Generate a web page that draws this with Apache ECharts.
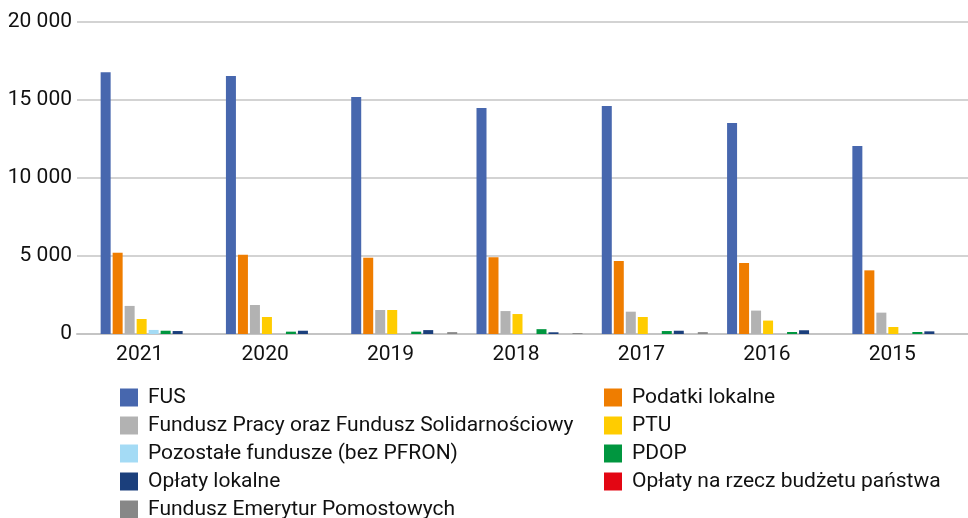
<!DOCTYPE html>
<html>
<head>
<meta charset="utf-8">
<script src="https://cdn.jsdelivr.net/npm/echarts@6/dist/echarts.min.js"></script>
<style>
  html, body { margin: 0; padding: 0; background: #fff; }
  #chart { width: 968px; height: 518px; }
</style>
</head>
<body>
<div id="chart"></div>
<script>
var years = ["2021", "2020", "2019", "2018", "2017", "2016", "2015"];
var yTicks = [0, 5000, 10000, 15000, 20000];

var fus = [16780, 16540, 15190, 14490, 14610, 13530, 12050];
var podatkiLokalne = [5210, 5080, 4890, 4920, 4680, 4550, 4080];
var funduszPracy = [1800, 1860, 1540, 1470, 1430, 1500, 1370];
var ptu = [960, 1090, 1540, 1280, 1090, 860, 450];
var pozostaleFundusze = [260, 0, 0, 0, 0, 0, 0];
var pdop = [210, 150, 150, 310, 190, 130, 130];
var oplatyLokalne = [190, 210, 250, 110, 210, 240, 170];
var oplatyBudzet = [0, 0, 0, 0, 0, 0, 0];
var funduszEmerytur = [0, 0, 120, 60, 120, 0, 0];

var FONT = "Roboto";

var chart = echarts.init(document.getElementById("chart"));

function bar(name, data, color) {
  return {
    name: name,
    type: "bar",
    xAxisIndex: 2,
    yAxisIndex: 2,
    data: data,
    barWidth: 10,
    barGap: "20%",
    itemStyle: { color: color },
  };
}

var legendText = {
  fontFamily: FONT,
  fontSize: 21,
  color: "#111",
  padding: [0, 0, 0, 5],
};

var option = {
  animation: false,
  grid: [
    { left: 77, right: 0, top: 22, bottom: 184 },
    { left: 77, right: 13, top: 22, bottom: 184 },
    { left: 91, right: -1.5, top: 22, bottom: 184 },
  ],
  xAxis: [
    {
      gridIndex: 0,
      type: "category",
      data: years,
      axisTick: { show: false },
      axisLabel: { show: false },
      axisLine: { lineStyle: { color: "#c4c4c4", width: 2 } },
    },
    {
      gridIndex: 1,
      type: "category",
      data: years,
      axisTick: { show: false },
      axisLine: { show: false },
      axisLabel: {
        margin: 10,
        fontFamily: FONT,
        fontSize: 21,
        color: "#111",
      },
    },
    {
      gridIndex: 2,
      type: "category",
      data: years,
      show: false,
    },
  ],
  yAxis: [
    {
      gridIndex: 0,
      type: "value",
      min: yTicks[0],
      max: yTicks[yTicks.length - 1],
      interval: yTicks[1] - yTicks[0],
      axisLine: { show: false },
      axisTick: { show: false },
      splitLine: { lineStyle: { color: "#c4c4c4", width: 1.5 } },
      axisLabel: {
        margin: 5,
        fontFamily: FONT,
        fontSize: 21,
        color: "#111",
        formatter: function (v) {
          return String(v).replace(/\B(?=(\d{3})+(?!\d))/g, " ");
        },
      },
    },
    { gridIndex: 1, type: "value", min: 0, max: 20000, show: false },
    { gridIndex: 2, type: "value", min: 0, max: 20000, show: false },
  ],
  legend: [
    {
      orient: "vertical",
      left: 115,
      top: 382,
      height: 160,
      itemWidth: 18,
      itemHeight: 18,
      itemGap: 7,
      icon: "rect",
      textStyle: legendText,
      data: [
        "FUS",
        "Fundusz Pracy oraz Fundusz Solidarnościowy",
        "Pozostałe fundusze (bez PFRON)",
        "Opłaty lokalne",
        "Fundusz Emerytur Pomostowych",
      ],
    },
    {
      orient: "vertical",
      left: 599,
      top: 382,
      height: 160,
      itemWidth: 18,
      itemHeight: 18,
      itemGap: 7,
      icon: "rect",
      textStyle: legendText,
      data: [
        "Podatki lokalne",
        "PTU",
        "PDOP",
        "Opłaty na rzecz budżetu państwa",
      ],
    },
  ],
  series: [
    bar("FUS", fus, "#4767ae"),
    bar("Podatki lokalne", podatkiLokalne, "#ef7d00"),
    bar("Fundusz Pracy oraz Fundusz Solidarnościowy", funduszPracy, "#b2b2b2"),
    bar("PTU", ptu, "#ffcc00"),
    bar("Pozostałe fundusze (bez PFRON)", pozostaleFundusze, "#a4dbf5"),
    bar("PDOP", pdop, "#00963f"),
    bar("Opłaty lokalne", oplatyLokalne, "#1b3f7c"),
    bar("Opłaty na rzecz budżetu państwa", oplatyBudzet, "#e30613"),
    bar("Fundusz Emerytur Pomostowych", funduszEmerytur, "#878787"),
  ],
};

chart.setOption(option);
</script>
</body>
</html>
